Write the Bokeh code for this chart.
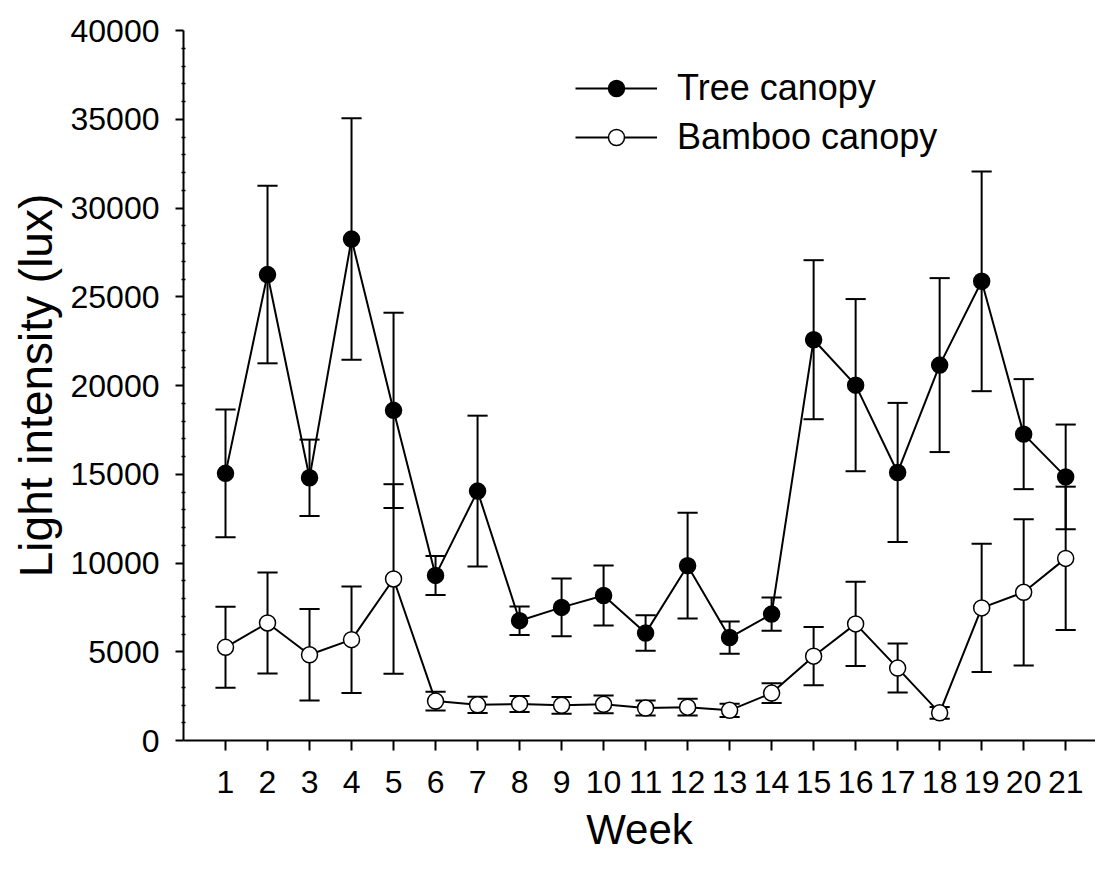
from bokeh.plotting import figure
from bokeh.models import (ColumnDataSource, FixedTicker, Range1d, Legend, LegendItem,
                          NumeralTickFormatter)
from bokeh.embed import file_html
from bokeh.resources import INLINE

# ---- data ----
weeks = list(range(1, 22))
tree_mean = [15050, 26250, 14800, 28250, 18600, 9300, 14050, 6750, 7500, 8170,
             6050, 9850, 5800, 7120, 22580, 20020, 15100, 21150, 25870, 17260, 14850]
tree_err = [3600, 5000, 2150, 6800, 5500, 1100, 4250, 800, 1620, 1690,
            1000, 2980, 910, 940, 4480, 4850, 3920, 4900, 6190, 3100, 2950]
bamboo_mean = [5250, 6620, 4830, 5680, 9100, 2220, 2010, 2060, 1980, 2040,
               1830, 1880, 1700, 2670, 4750, 6570, 4080, 1560, 7470, 8350, 10260]
bamboo_err = [2280, 2850, 2580, 3000, 5340, 530, 460, 450, 470, 500,
              420, 470, 375, 560, 1640, 2370, 1380, 330, 3610, 4120, 4040]
y_ticks = [0, 5000, 10000, 15000, 20000, 25000, 30000, 35000, 40000]
series_names = ["Tree canopy", "Bamboo canopy"]

FONT = "Liberation Sans"
CAP = 0.24

def err_source(xs, m, e):
    return ColumnDataSource(dict(
        x=xs, top=[a + b for a, b in zip(m, e)], bot=[a - b for a, b in zip(m, e)],
        xl=[x - CAP for x in xs], xr=[x + CAP for x in xs]))

p = figure(width=1095, height=862, output_backend="svg", toolbar_location=None,
           x_range=Range1d(0, 21.71), y_range=Range1d(0, 40000),
           min_border_left=183, min_border_right=0, min_border_top=30,
           min_border_bottom=122)
p.outline_line_color = None
p.xgrid.grid_line_color = None
p.ygrid.grid_line_color = None
p.background_fill_color = "white"
p.border_fill_color = "white"

src_t = ColumnDataSource(dict(x=weeks, y=tree_mean))
src_b = ColumnDataSource(dict(x=weeks, y=bamboo_mean))
et = err_source(weeks, tree_mean, tree_err)
eb = err_source(weeks, bamboo_mean, bamboo_err)

# connecting lines
lt = p.line("x", "y", source=src_t, line_color="black", line_width=2)
lb = p.line("x", "y", source=src_b, line_color="black", line_width=2)

# error bars
for es in (et, eb):
    p.segment("x", "bot", "x", "top", source=es, line_color="black", line_width=2)
    p.segment("xl", "top", "xr", "top", source=es, line_color="black", line_width=2)
    p.segment("xl", "bot", "xr", "bot", source=es, line_color="black", line_width=2)

# markers
mt = p.scatter("x", "y", source=src_t, marker="circle", size=16,
               fill_color="black", line_color="black", line_width=1.5)
mb = p.scatter("x", "y", source=src_b, marker="circle", size=16,
               fill_color="white", line_color="black", line_width=1.5)

# axes
xa = p.xaxis[0]
xa.ticker = FixedTicker(ticks=weeks)
xa.axis_label = "Week"
xa.axis_label_text_font = FONT
xa.axis_label_text_font_size = "42px"
xa.axis_label_text_font_style = "normal"
xa.axis_label_text_color = "black"
xa.axis_label_standoff = 10
xa.major_label_text_font = FONT
xa.major_label_text_font_size = "32px"
xa.major_label_text_color = "black"
xa.major_label_standoff = 20
xa.axis_line_width = 2
xa.axis_line_color = "black"
xa.major_tick_out = 10
xa.major_tick_in = 0
xa.major_tick_line_width = 2
xa.minor_tick_line_color = None

ya = p.yaxis[0]
ya.ticker = FixedTicker(ticks=y_ticks,
                        minor_ticks=[v for v in range(0, 40001, 1000) if v % 5000])
ya.formatter = NumeralTickFormatter(format="0")
ya.axis_label = "Light intensity (lux)"
ya.axis_label_text_font = FONT
ya.axis_label_text_font_size = "46px"
ya.axis_label_text_font_style = "normal"
ya.axis_label_text_color = "black"
ya.axis_label_standoff = 6
ya.major_label_text_font = FONT
ya.major_label_text_font_size = "32px"
ya.major_label_text_color = "black"
ya.major_label_standoff = 16
ya.axis_line_width = 2
ya.axis_line_color = "black"
ya.major_tick_out = 8
ya.major_tick_in = 0
ya.major_tick_line_width = 2
ya.minor_tick_out = 2
ya.minor_tick_in = 2
ya.minor_tick_line_width = 1.5

legend = Legend(items=[LegendItem(label=series_names[0], renderers=[lt, mt]),
                       LegendItem(label=series_names[1], renderers=[lb, mb])],
                location=(392, 582), glyph_width=82, glyph_height=40,
                label_height=40, label_standoff=20, spacing=7, padding=0, margin=0,
                border_line_color=None, background_fill_alpha=0,
                label_text_font=FONT, label_text_font_size="36px",
                label_text_color="black")
p.add_layout(legend, "center")

open("out.html", "w").write(file_html(p, INLINE))
